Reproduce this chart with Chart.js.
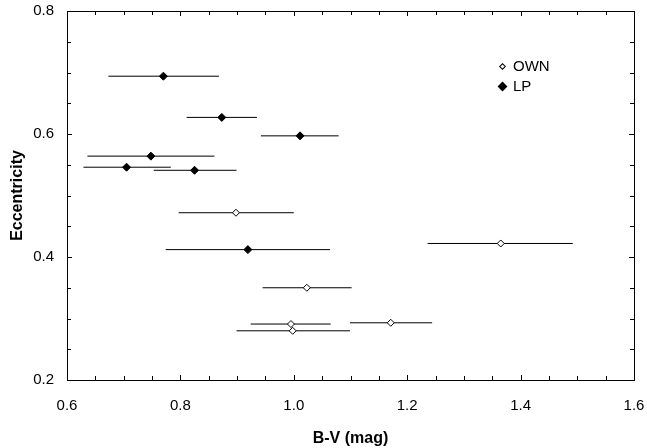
<!DOCTYPE html>
<html>
<head>
<meta charset="utf-8">
<script src="https://cdn.jsdelivr.net/npm/chart.js@4/dist/chart.umd.min.js"></script>
<style>
  html, body { margin: 0; padding: 0; background: #fff; }
  #wrap { position: relative; width: 647px; height: 448px; }
  #legend { position: absolute; left: 498px; top: 56px; font-family: "Liberation Sans", Arial, sans-serif; font-size: 15px; color: #000; line-height: 20px; }
  .item { display: flex; align-items: center; height: 20px; }
  .mk { display: inline-block; transform: rotate(45deg); margin-right: 7px; box-sizing: border-box; }
  .open { width: 5px; height: 5px; border: 1px solid #000; background: #fff; margin-left: 2px; margin-right: 8px; }
  .fill { width: 7px; height: 7px; background: #000; margin-left: 1px; }
</style>
</head>
<body>
<div id="wrap">
  <canvas id="c" width="647" height="448"></canvas>
  <div id="legend">
    <div class="item"><span class="mk open"></span>OWN</div>
    <div class="item"><span class="mk fill"></span>LP</div>
  </div>
</div>
<script>
// ---- data ----
const ownBV    = [0.898, 1.365, 1.023, 1.171, 0.995, 0.998];
const ownEcc   = [0.472, 0.422, 0.350, 0.293, 0.291, 0.280];
const ownBVlo  = [0.797, 1.236, 0.945, 1.099, 0.924, 0.899];
const ownBVhi  = [1.000, 1.492, 1.102, 1.244, 1.065, 1.099];

const lpBV     = [0.770, 0.873, 1.011, 0.748, 0.705, 0.825, 0.919];
const lpEcc    = [0.694, 0.627, 0.597, 0.564, 0.546, 0.541, 0.412];
const lpBVlo   = [0.673, 0.811, 0.942, 0.636, 0.629, 0.753, 0.774];
const lpBVhi   = [0.868, 0.935, 1.079, 0.860, 0.783, 0.899, 1.064];

const xTickValues = [0.6, 0.8, 1.0, 1.2, 1.4, 1.6];
const yTickValues = [0.2, 0.4, 0.6, 0.8];

const FONT = '"Liberation Sans", Arial, sans-serif';

function errorBarSets(xs, ys, lo, hi) {
  return xs.map((_, i) => ({
    type: 'line',
    label: '_err',
    data: [{x: lo[i], y: ys[i]}, {x: hi[i], y: ys[i]}],
    borderColor: '#000',
    borderWidth: 1,
    pointRadius: 0,
    fill: false,
    order: 5
  }));
}

const datasets = [
  ...errorBarSets(lpBV, lpEcc, lpBVlo, lpBVhi),
  ...errorBarSets(ownBV, ownEcc, ownBVlo, ownBVhi),
  {
    type: 'scatter',
    label: 'OWN',
    data: ownBV.map((x, i) => ({x, y: ownEcc[i]})),
    pointStyle: 'rectRot',
    pointRadius: 3.5,
    backgroundColor: '#fff',
    borderColor: '#000',
    borderWidth: 1,
    order: 1
  },
  {
    type: 'scatter',
    label: 'LP',
    data: lpBV.map((x, i) => ({x, y: lpEcc[i]})),
    pointStyle: 'rectRot',
    pointRadius: 4,
    backgroundColor: '#000',
    borderColor: '#000',
    borderWidth: 1,
    order: 1
  }
];

const frame = {
  id: 'frame',
  afterDraw(chart) {
    const {ctx, chartArea: a, scales} = chart;
    ctx.save();
    ctx.strokeStyle = '#000';
    ctx.lineWidth = 1;
    ctx.beginPath();
    for (let k = 0; k <= 20; k++) {
      const v = 0.6 + k * 0.05;
      const px = Math.round(scales.x.getPixelForValue(v)) + 0.5;
      const len = (k % 4 === 0) ? 5 : 4;
      ctx.moveTo(px, a.bottom); ctx.lineTo(px, a.bottom - len);
      ctx.moveTo(px, a.top); ctx.lineTo(px, a.top + len);
    }
    for (let k = 0; k <= 12; k++) {
      const v = 0.2 + k * 0.05;
      const py = Math.round(scales.y.getPixelForValue(v)) + 0.5;
      const len = (k % 4 === 0) ? 5 : 4;
      ctx.moveTo(a.left, py); ctx.lineTo(a.left + len, py);
      ctx.moveTo(a.right, py); ctx.lineTo(a.right - len, py);
    }
    ctx.stroke();
    ctx.strokeRect(Math.round(a.left) + 0.5, Math.round(a.top) + 0.5,
                   Math.round(a.right - a.left), Math.round(a.bottom - a.top));
    ctx.restore();
  }
};

new Chart(document.getElementById('c'), {
  type: 'scatter',
  data: { datasets },
  options: {
    responsive: false,
    animation: false,
    events: [],
    layout: { padding: { top: 11, right: 13, left: 0, bottom: 0 } },
    plugins: { legend: { display: false }, tooltip: { enabled: false } },
    scales: {
      x: {
        type: 'linear', min: 0.6, max: 1.6,
        afterFit(s) { s.height = 68; s.paddingLeft = 0; s.paddingRight = 0; },
        afterBuildTicks(s) { s.ticks = xTickValues.map(v => ({value: v})); },
        ticks: { callback: v => v.toFixed(1), font: { family: FONT, size: 15 }, color: '#000', padding: 17, maxRotation: 0 },
        grid: { display: false, drawTicks: false },
        border: { display: false },
        title: { display: true, text: 'B-V (mag)', font: { family: FONT, size: 16, weight: 'bold' }, color: '#000', padding: { top: 0, bottom: 0 } }
      },
      y: {
        type: 'linear', min: 0.2, max: 0.8,
        afterFit(s) { s.width = 67; s.paddingTop = 0; s.paddingBottom = 0; },
        afterBuildTicks(s) { s.ticks = yTickValues.map(v => ({value: v})); },
        ticks: { callback: v => v.toFixed(1), font: { family: FONT, size: 15 }, color: '#000', padding: 13 },
        grid: { display: false, drawTicks: false },
        border: { display: false },
        title: { display: true, text: 'Eccentricity', font: { family: FONT, size: 16, weight: 'bold' }, color: '#000', padding: { top: 8, bottom: 0 } }
      }
    }
  },
  plugins: [frame]
});
</script>
</body>
</html>
